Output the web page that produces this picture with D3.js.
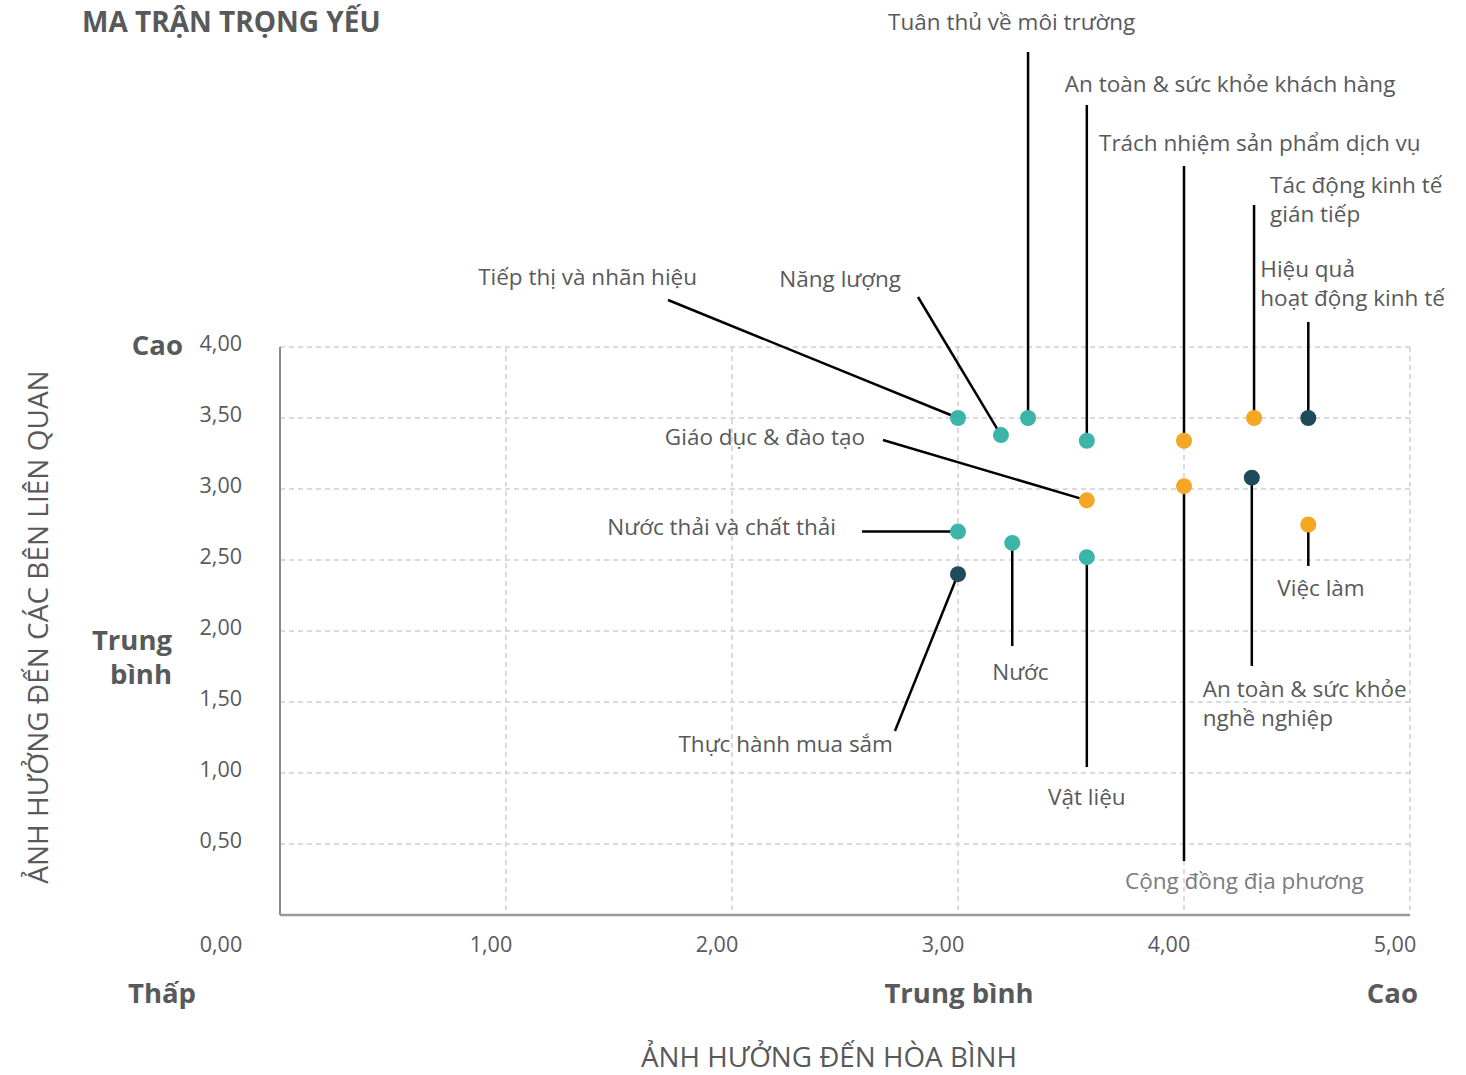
<!DOCTYPE html>
<html><head><meta charset="utf-8">
<script src="https://cdn.jsdelivr.net/npm/d3@7"></script>
<style>
html,body{margin:0;padding:0;background:#fff;}
svg{display:block;font-family:"Open Sans",sans-serif;}
</style></head><body>
<svg id="c" width="1466" height="1075"></svg>
<script>
// ---- data ----
const names = ["Tiếp thị và nhãn hiệu","Năng lượng","Tuân thủ về môi trường","An toàn & sức khỏe khách hàng","Trách nhiệm sản phẩm dịch vụ","Tác động kinh tế|gián tiếp","Hiệu quả|hoạt động kinh tế","Giáo dục & đào tạo","Cộng đồng địa phương","An toàn & sức khỏe|nghề nghiệp","Việc làm","Nước thải và chất thải","Nước","Vật liệu","Thực hành mua sắm"];
const peaceImpact = [3.00,3.19,3.31,3.57,4.00,4.31,4.55,3.57,4.00,4.30,4.55,3.00,3.24,3.57,3.00];
const stakeholderImpact = [3.50,3.38,3.50,3.34,3.34,3.50,3.50,2.92,3.02,3.08,2.75,2.70,2.62,2.52,2.40];
const group = ["env","env","env","env","soc","soc","eco","soc","soc","eco","soc","env","env","env","eco"];
// leader-line end points (data space)
const leadX = [1.717,2.823,3.31,3.57,4.00,4.31,4.55,2.668,4.00,4.30,4.55,2.575,3.24,3.57,2.721];
const leadY = [4.331,4.352,6.077,5.704,5.275,5.00,4.176,3.345,0.38,1.754,2.458,2.70,1.894,1.042,1.296];
const xTicks = [0,1,2,3,4,5];
const yTicks = [0.5,1,1.5,2,2.5,3,3.5,4];
const fmt = v => v.toFixed(2).replace(".", ",");

// ---- layout / style ----
const colors = {env:"#3db4a9", soc:"#f5a623", eco:"#1e4a5b"};
const textCol = "#58595b";
// label placement relative to leader end: [dx, dy, anchor]
const labelPos = [[29,-15,"end"],[-17,-10,"end"],[-140,-22,"start"],[-22,-13,"start"],[-85,-15,"start"],[16,-12,"start"],[-48,-45,"start"],[-18,5,"end"],[-59,28,"start"],[-49,31,"start"],[-31,30,"start"],[-26,3,"end"],[-20,34,"start"],[0,38,"middle"],[-2,21,"end"]];

const svg = d3.select("#c");
const x = d3.scaleLinear().domain([0,5]).range([280,1410]);
const y = d3.scaleLinear().domain([0,4]).range([915,347]);

// grid
const grid = svg.append("g");
grid.selectAll(".hg").data(yTicks).join("line")
  .attr("x1", x(0)).attr("x2", x(5)).attr("y1", d=>y(d)).attr("y2", d=>y(d))
  .attr("stroke","#cfcfcf").attr("stroke-width",1.5).attr("stroke-dasharray","5,4");
grid.selectAll(".vg").data(xTicks.filter(d=>d>0)).join("line")
  .attr("x1", d=>x(d)).attr("x2", d=>x(d)).attr("y1", y(4)).attr("y2", y(0))
  .attr("stroke","#cfcfcf").attr("stroke-width",1.5).attr("stroke-dasharray","5,4");
// axes lines
svg.append("line").attr("x1",x(0)).attr("x2",x(0)).attr("y1",y(4)).attr("y2",y(0)).attr("stroke","#8a8a8a").attr("stroke-width",2);
svg.append("line").attr("x1",x(0)).attr("x2",x(5)).attr("y1",y(0)).attr("y2",y(0)).attr("stroke","#9a9a9a").attr("stroke-width",2.5);

// tick labels
svg.append("g").selectAll("text").data(yTicks).join("text")
  .attr("x",242).attr("y",d=>y(d)+4).attr("text-anchor","end")
  .attr("font-size",21.5).attr("fill",textCol).text(fmt);
svg.append("g").selectAll("text").data(xTicks).join("text")
  .attr("x",d=> d===0 ? 221 : x(d)-15).attr("y",952).attr("text-anchor","middle")
  .attr("font-size",21.5).attr("fill",textCol).text(fmt);

// bold level labels
const bold = (t,xx,yy,anchor)=>svg.append("text").attr("x",xx).attr("y",yy).attr("text-anchor",anchor)
  .attr("font-size",27.5).attr("font-weight","bold").attr("fill",textCol).text(t);
bold("Cao",183,355,"end");
bold("Trung",172,650,"end");
bold("bình",172,684,"end");
bold("Thấp",162,1003,"middle");
bold("Trung bình",959,1003,"middle");
bold("Cao",1418,1003,"end");

// titles
svg.append("text").attr("x",82).attr("y",32).attr("font-size",28).attr("font-weight","bold").attr("fill",textCol).text("MA TRẬN TRỌNG YẾU");
svg.append("text").attr("x",829).attr("y",1067).attr("text-anchor","middle").attr("font-size",27.8).attr("fill",textCol).text("ẢNH HƯỞNG ĐẾN HÒA BÌNH");
svg.append("text").attr("transform","translate(48,627) rotate(-90)").attr("text-anchor","middle").attr("font-size",28).attr("fill",textCol).text("ẢNH HƯỞNG ĐẾN CÁC BÊN LIÊN QUAN");

// leader lines
const idx = d3.range(names.length);
svg.append("g").selectAll("line").data(idx).join("line")
  .attr("x1",i=>x(peaceImpact[i])).attr("y1",i=>y(stakeholderImpact[i]))
  .attr("x2",i=>x(leadX[i])).attr("y2",i=>y(leadY[i]))
  .attr("stroke","#000").attr("stroke-width",2.5);

// points
svg.append("g").selectAll("circle").data(idx).join("circle")
  .attr("cx",i=>x(peaceImpact[i])).attr("cy",i=>y(stakeholderImpact[i])).attr("r",8)
  .attr("fill",i=>colors[group[i]]);

// labels
const lab = svg.append("g").selectAll("text").data(idx).join("text")
  .attr("x",i=>x(leadX[i])+labelPos[i][0]).attr("y",i=>y(leadY[i])+labelPos[i][1])
  .attr("text-anchor",i=>labelPos[i][2])
  .attr("font-size",22.5).attr("fill",i=> names[i]==="Cộng đồng địa phương" ? "#7a7b7d" : textCol);
lab.each(function(i){
  const parts = names[i].split("|");
  const t = d3.select(this);
  parts.forEach((p,k)=>t.append("tspan").attr("x",x(leadX[i])+labelPos[i][0]).attr("dy",k===0?0:29).text(p));
});
</script>
</body></html>
